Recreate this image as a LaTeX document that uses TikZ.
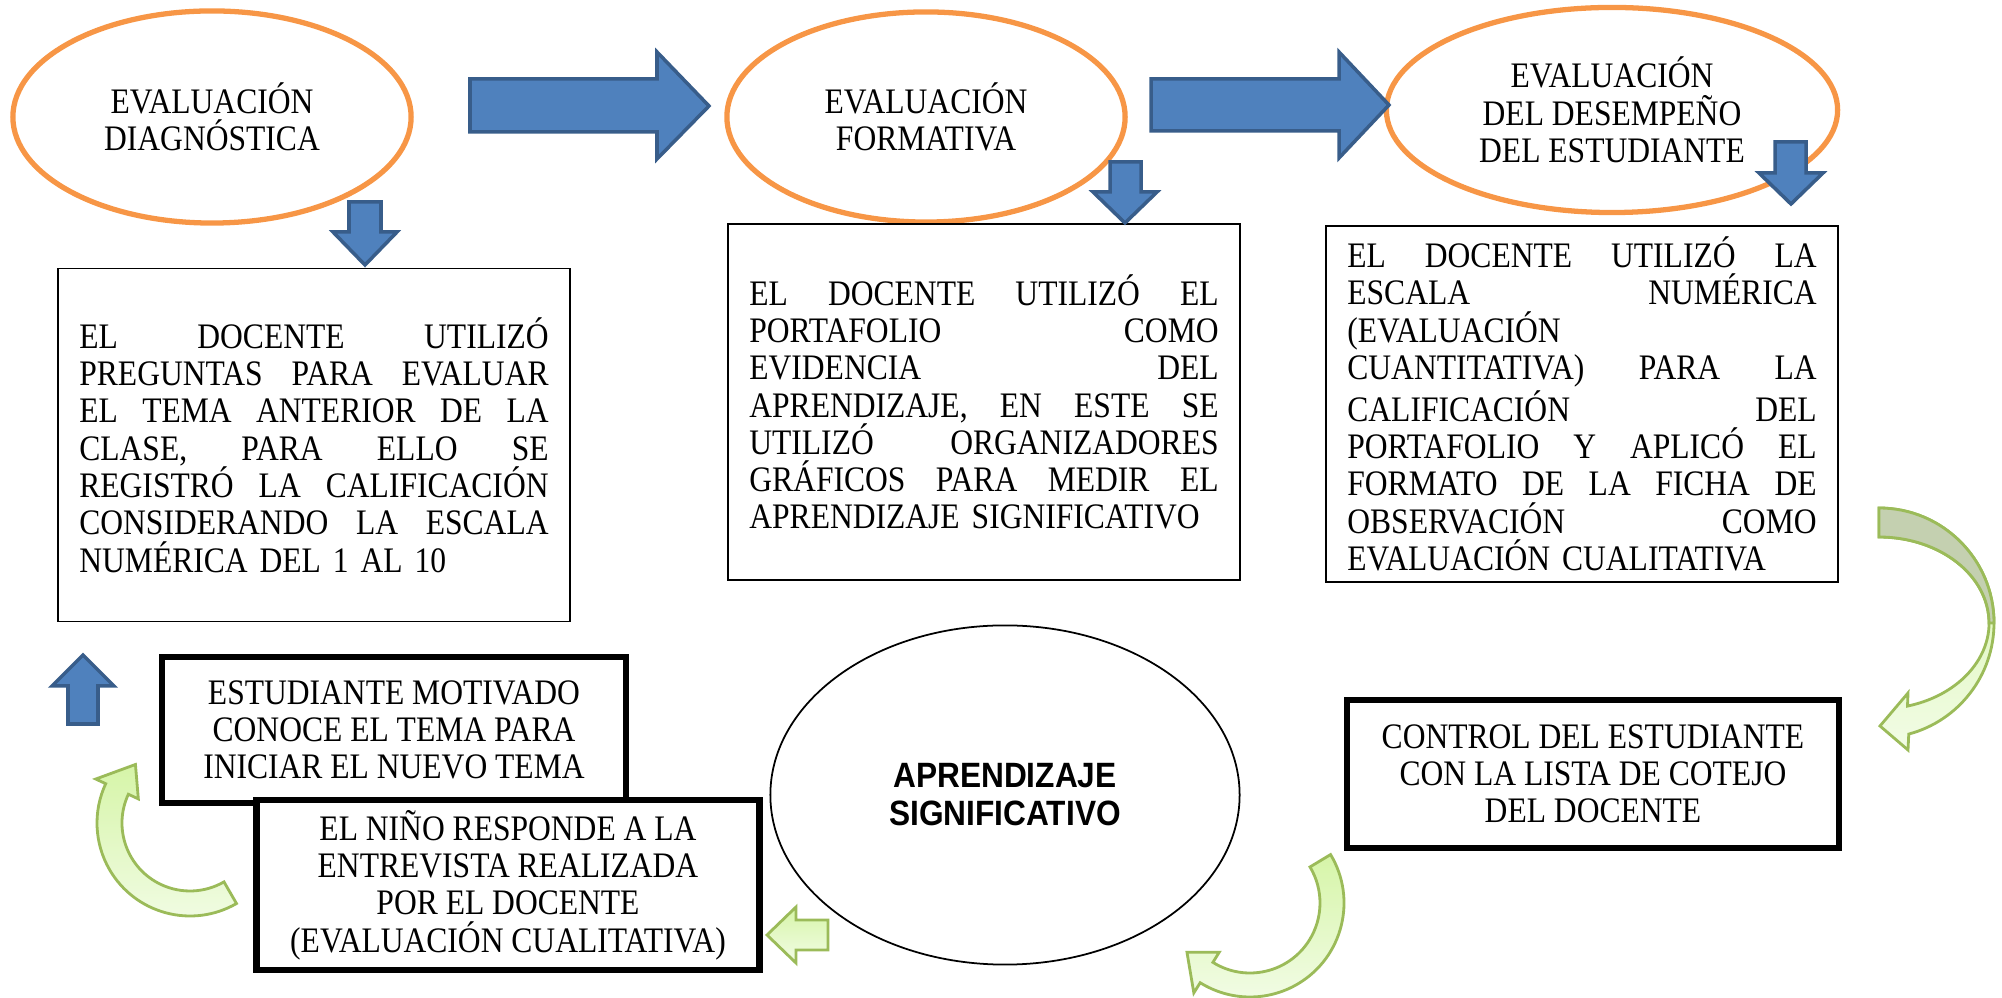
\documentclass[tikz,border=0pt]{standalone}
\usepackage{fontspec}
\setmainfont{Liberation Serif}[FakeStretch=0.88]
\newfontfamily\arialfont{Liberation Sans}[FakeStretch=0.9]
\usepackage{tikz}
\usetikzlibrary{shapes.geometric}

\definecolor{elorange}{HTML}{F79646}
\definecolor{arrblue}{HTML}{4F81BD}
\definecolor{arredge}{HTML}{385D8A}
\definecolor{grnedge}{HTML}{9BBB59}
\definecolor{grntop}{HTML}{D6F5A8}
\definecolor{grnbottom}{HTML}{F2FCE6}
\definecolor{grnback}{HTML}{C4D0B0}

\newcommand{\jline}[1]{\makebox[4.69cm][l]{\spaceskip=0.25em plus 1fill\relax #1}}

\begin{document}
\begin{tikzpicture}[x=0.01cm, y=0.01cm,
    every node/.style={font=\fontsize{10.2}{10.6}\selectfont},
    evalellipse/.style={shape=ellipse, draw=elorange, line width=1.5pt, inner sep=0pt, align=center},
    textbox/.style={shape=rectangle, draw=black, line width=0.5pt, fill=white, text width=4.69cm, align=left, inner sep=0pt},
    thickbox/.style={shape=rectangle, draw=black, line width=1.8pt, fill=white, align=center, inner sep=0pt},
    bluearrow/.style={fill=arrblue, draw=arredge, line width=1pt},
    greenarrow/.style={draw=grnedge, line width=0.8pt, top color=grntop, bottom color=grnbottom}]
    \useasboundingbox (0,0) rectangle (2002,-998);

    % the three evaluations
    \node[evalellipse, minimum width=3.98cm, minimum height=2.12cm] at (212,-117) (diag) {EVALUACIÓN\\DIAGNÓSTICA};
    \node[evalellipse, minimum width=3.98cm, minimum height=2.10cm] at (926,-117) (form) {EVALUACIÓN\\FORMATIVA};
    \node[evalellipse, minimum width=4.51cm, minimum height=2.05cm] at (1612,-110) (desem) {EVALUACIÓN\\DEL DESEMPEÑO\\DEL ESTUDIANTE};

    % what the teacher did
    \node[textbox, minimum width=5.12cm, minimum height=3.53cm] at (314,-445) (boxdiag) {\jline{EL DOCENTE UTILIZÓ}\\
        \jline{PREGUNTAS PARA EVALUAR}\\
        \jline{EL TEMA ANTERIOR DE LA}\\
        \jline{CLASE, PARA ELLO SE}\\
        \jline{REGISTRÓ LA CALIFICACIÓN}\\
        \jline{CONSIDERANDO LA ESCALA}\\
        NUMÉRICA DEL 1 AL 10};
    \node[textbox, minimum width=5.12cm, minimum height=3.56cm] at (984,-402) (boxform) {\jline{EL DOCENTE UTILIZÓ EL}\\
        \jline{PORTAFOLIO COMO}\\
        \jline{EVIDENCIA DEL}\\
        \jline{APRENDIZAJE, EN ESTE SE}\\
        \jline{UTILIZÓ ORGANIZADORES}\\
        \jline{GRÁFICOS PARA MEDIR EL}\\
        APRENDIZAJE SIGNIFICATIVO};
    \node[textbox, minimum width=5.11cm, minimum height=3.56cm] at (1582,-404) (boxdesem) {\jline{EL DOCENTE UTILIZÓ LA}\\
        \jline{ESCALA NUMÉRICA}\\
        (EVALUACIÓN\\
        \jline{CUANTITATIVA) PARA LA}\\
        \jline{CALIFICACIÓN DEL}\\
        \jline{PORTAFOLIO Y APLICÓ EL}\\
        \jline{FORMATO DE LA FICHA DE}\\
        \jline{OBSERVACIÓN COMO}\\
        EVALUACIÓN CUALITATIVA};

    % bottom cycle
    \node[shape=ellipse, draw=black, line width=0.5pt, minimum width=4.69cm, minimum height=3.39cm, inner sep=0pt, align=center,
        font=\arialfont\bfseries\fontsize{10}{10.8}\selectfont] at (1005,-795) (aprend) {APRENDIZAJE\\SIGNIFICATIVO};
    \node[thickbox, minimum width=4.64cm, minimum height=1.46cm] at (394,-730) (motivado) {ESTUDIANTE MOTIVADO\\CONOCE EL TEMA PARA\\INICIAR EL NUEVO TEMA};
    \node[thickbox, minimum width=5.03cm, minimum height=1.70cm] at (508,-885) (respuesta) {EL NIÑO RESPONDE A LA\\ENTREVISTA REALIZADA\\POR EL DOCENTE\\(EVALUACIÓN CUALITATIVA)};
    \node[thickbox, minimum width=4.92cm, minimum height=1.48cm] at (1593,-774) (control) {CONTROL DEL ESTUDIANTE\\CON LA LISTA DE COTEJO\\DEL DOCENTE};

    % blue block arrows
    \draw[bluearrow] (470,-79) -- (657,-79) -- (657,-52) -- (709,-106) -- (657,-159) -- (657,-132) -- (470,-132) -- cycle;
    \draw[bluearrow] (1151,-79) -- (1339,-79) -- (1339,-52) -- (1389,-105) -- (1339,-158) -- (1339,-131) -- (1151,-131) -- cycle;
    \draw[bluearrow] (349,-202) -- (381,-202) -- (381,-232) -- (397,-232) -- (365,-265) -- (333,-232) -- (349,-232) -- cycle;
    \draw[bluearrow] (1110,-162) -- (1141,-162) -- (1141,-192) -- (1157,-192) -- (1125,-223) -- (1093,-192) -- (1110,-192) -- cycle;
    \draw[bluearrow] (1775,-142) -- (1806,-142) -- (1806,-173) -- (1823,-173) -- (1791,-204) -- (1759,-173) -- (1775,-173) -- cycle;
    \draw[bluearrow] (68,-724) -- (98,-724) -- (98,-686) -- (114,-686) -- (83,-655) -- (52,-686) -- (68,-686) -- cycle;

    % green curved arrows
    \draw[greenarrow, shift={(1879,-623)}] (90:115) arc[start angle=90, end angle=-75, radius=115]
        -- (29,-127) -- (1,-103) -- (29,-70) -- (28.5,-83.1) arc[start angle=-75, end angle=90, x radius=110, y radius=86] -- cycle;
    \draw[draw=grnedge, fill=grnback, line width=0.8pt, shift={(1879,-623)}] (90:115) arc[start angle=90, end angle=0, radius=115]
        -- (110,0) arc[start angle=0, end angle=90, x radius=110, y radius=86] -- cycle;
    \draw[greenarrow, shift={(1250,-903)}] (31:94) arc[start angle=31, end angle=-122, radius=94]
        -- (-122:106) -- (-142:80) -- (-122:58) -- (-122:70) arc[start angle=-122, end angle=31, radius=70] -- cycle;
    \draw[greenarrow, shift={(190,-823)}] (-60:93) arc[start angle=-60, end angle=-205, radius=93]
        -- (-205:104) -- (-227:80) -- (-205:57) -- (-205:68) arc[start angle=-205, end angle=-60, radius=68] -- cycle;
    \draw[greenarrow] (828,-920) -- (796,-920) -- (796,-907) -- (767,-935) -- (796,-963) -- (796,-950) -- (828,-950) -- cycle;
\end{tikzpicture}
\end{document}
